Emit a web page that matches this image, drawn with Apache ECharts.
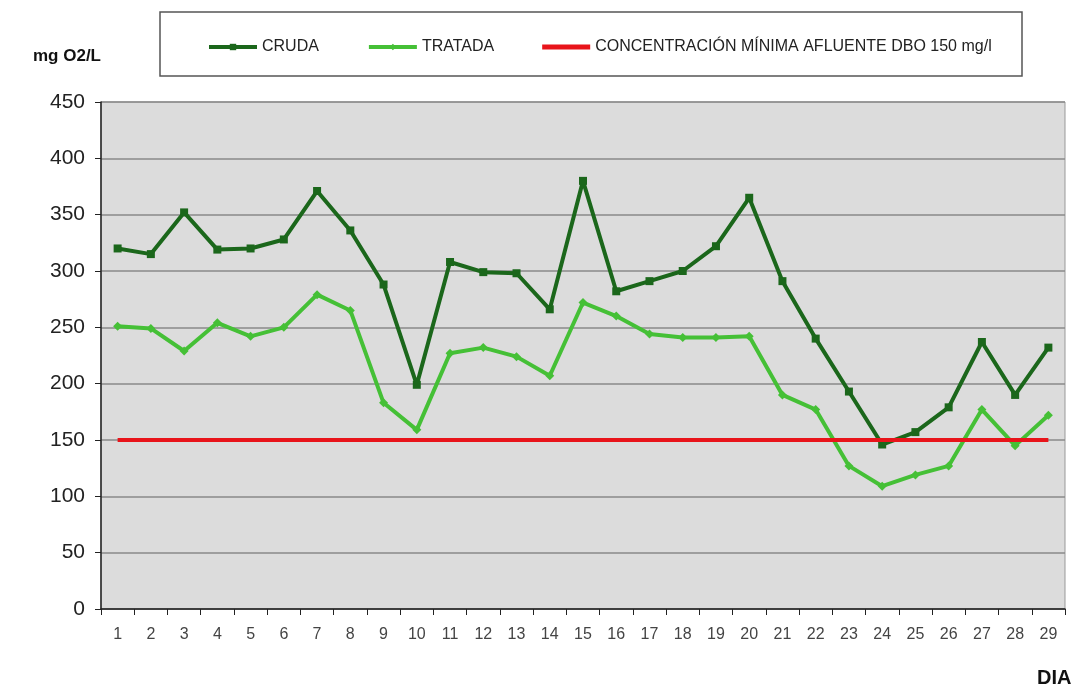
<!DOCTYPE html>
<html>
<head>
<meta charset="utf-8">
<script src="https://cdn.jsdelivr.net/npm/echarts@6/dist/echarts.min.js"></script>
<style>
  html, body { margin: 0; padding: 0; background: #fff; }
  #main { width: 1077px; height: 688px; }
</style>
</head>
<body>
<div id="main"></div>
<script>
// dias del mes
var dias = ['1','2','3','4','5','6','7','8','9','10','11','12','13','14','15','16','17','18','19','20','21','22','23','24','25','26','27','28','29'];
// DBO agua cruda (mg O2/L)
var cruda = [320, 315, 352, 319, 320, 328, 371, 336, 288, 199, 308, 299, 298, 266, 380, 282, 291, 300, 322, 365, 291, 240, 193, 146, 157, 179, 237, 190, 232];
// DBO agua tratada
var tratada = [251, 249, 229, 254, 242, 250, 279, 265, 183, 159, 227, 232, 224, 207, 272, 260, 244, 241, 241, 242, 190, 177, 127, 109, 119, 127, 177, 145, 172];
// concentracion minima afluente
var minima = dias.map(function () { return 150; });

var fuente = '"Liberation Sans", Arial, sans-serif';

var myChart = echarts.init(document.getElementById('main'));

var option = {
  backgroundColor: '#fff',
  animation: false,
  textStyle: { fontFamily: fuente },
  graphic: [
    // marco de la leyenda
    {
      type: 'rect',
      shape: { x: 160, y: 12, width: 862, height: 64 },
      style: { fill: '#fff', stroke: '#555', lineWidth: 1.5 },
      z: -1
    },
    {
      type: 'text',
      left: 1037,
      top: 668,
      style: { text: 'DIA', font: 'bold 20px "Liberation Sans", Arial', fill: '#111' }
    }
  ],
  legend: {
    left: 202,
    top: 34,
    itemWidth: 48,
    itemHeight: 8,
    itemGap: 48,
    lineStyle: { width: 4 },
    textStyle: { fontSize: 16, color: '#222' },
    data: [
      'CRUDA',
      'TRATADA',
      { name: 'CONCENTRACIÓN MÍNIMA AFLUENTE DBO 150 mg/l', icon: 'path://M0,3 L48,3 L48,8 L0,8 Z' }
    ]
  },
  grid: {
    left: 101,
    right: 12,
    top: 102,
    bottom: 79,
    show: true,
    backgroundColor: '#dcdcdc',
    borderColor: '#999',
    borderWidth: 1
  },
  xAxis: {
    type: 'category',
    data: dias,
    boundaryGap: true,
    axisLine: { lineStyle: { color: '#222', width: 1.5 } },
    axisTick: { show: true, length: 6, lineStyle: { color: '#222' } },
    axisLabel: { fontSize: 16, color: '#444', margin: 18 }
  },
  yAxis: {
    type: 'value',
    min: 0,
    max: 450,
    interval: 50,
    name: 'mg O2/L',
    nameGap: 46,
    nameTextStyle: { align: 'right', verticalAlign: 'middle', fontSize: 17, fontWeight: 'bold', color: '#111' },
    axisLine: { show: true, lineStyle: { color: '#222', width: 1.5 } },
    axisTick: { show: true, length: 6, lineStyle: { color: '#222' } },
    axisLabel: { fontSize: 21, color: '#222', margin: 16 },
    splitLine: { lineStyle: { color: '#8a8a8a', width: 1.5 } }
  },
  series: [
    {
      name: 'CRUDA',
      type: 'line',
      data: cruda,
      symbol: 'rect',
      symbolSize: 8,
      itemStyle: { color: '#1b671b' },
      lineStyle: { color: '#1b671b', width: 4 },
      z: 4
    },
    {
      name: 'TRATADA',
      type: 'line',
      data: tratada,
      symbol: 'diamond',
      symbolSize: 9,
      itemStyle: { color: '#45c036' },
      lineStyle: { color: '#45c036', width: 4 },
      z: 3
    },
    {
      name: 'CONCENTRACIÓN MÍNIMA AFLUENTE DBO 150 mg/l',
      type: 'line',
      data: minima,
      symbol: 'none',
      itemStyle: { color: '#e8141a' },
      lineStyle: { color: '#e8141a', width: 4 },
      z: 5
    }
  ]
};

myChart.setOption(option);
</script>
</body>
</html>
